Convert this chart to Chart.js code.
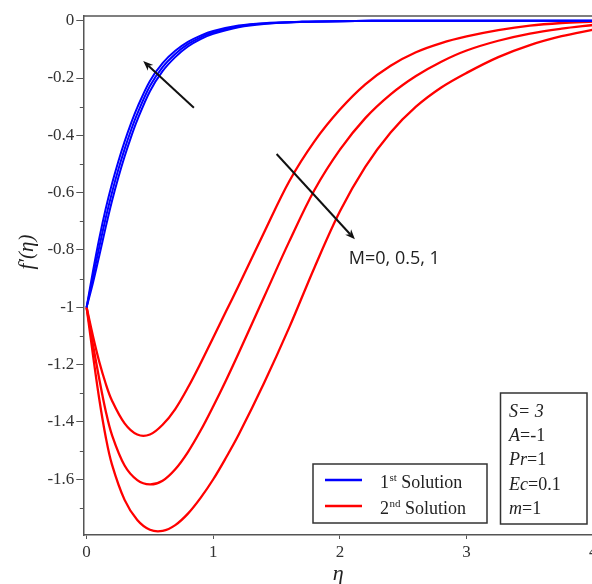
<!DOCTYPE html>
<html>
<head>
<meta charset="utf-8">
<script src="https://cdn.jsdelivr.net/npm/chart.js@4.4.1/dist/chart.umd.min.js"></script>
<style>
  html, body { margin: 0; padding: 0; background: #fff; overflow: hidden; }
  #wrap { width: 600px; height: 584px; position: relative; }
</style>
</head>
<body>
<div id="wrap"><canvas id="grafico"></canvas></div>
<script>
// eta values and f'(eta) for the 1st solution (M = 0, 0.5, 1)
const etaBlue = [0, 0.05, 0.1, 0.15, 0.2, 0.25, 0.3, 0.35, 0.4, 0.5, 0.6, 0.7, 0.8, 0.9, 1.0, 1.2, 1.4, 1.7, 2.0, 2.5, 4.0];
const blueM0 = [-1, -0.915, -0.82, -0.722, -0.63, -0.548, -0.474, -0.407, -0.347, -0.246, -0.176, -0.127, -0.09, -0.064, -0.046, -0.023, -0.0115, -0.004, -0.0015, 0, 0];
const blueM05 = [-1, -0.895, -0.79, -0.69, -0.60, -0.52, -0.448, -0.383, -0.325, -0.228, -0.162, -0.116, -0.082, -0.058, -0.041, -0.02, -0.01, -0.004, -0.0015, 0, 0];
const blueM1 = [-1, -0.875, -0.76, -0.658, -0.57, -0.492, -0.422, -0.359, -0.303, -0.21, -0.148, -0.105, -0.074, -0.052, -0.036, -0.017, -0.0085, -0.004, -0.0015, 0, 0];

// 2nd solution (M = 0, 0.5, 1)
const etaRed = [0, 0.05, 0.1, 0.15, 0.2, 0.3, 0.4, 0.5, 0.6, 0.7, 0.8, 0.9, 1.0, 1.1, 1.2, 1.4, 1.6, 1.8, 2.0, 2.2, 2.4, 2.6, 2.8, 3.0, 3.25, 3.5, 3.75, 4.0];
const redM0 = [-1, -1.10, -1.19, -1.265, -1.325, -1.405, -1.444, -1.444, -1.41, -1.355, -1.28, -1.195, -1.105, -1.015, -0.925, -0.74, -0.56, -0.42, -0.31, -0.222, -0.157, -0.11, -0.078, -0.055, -0.033, -0.017, -0.008, -0.003];
const redM05 = [-1, -1.13, -1.25, -1.36, -1.445, -1.552, -1.603, -1.618, -1.605, -1.565, -1.505, -1.43, -1.345, -1.255, -1.16, -0.965, -0.77, -0.59, -0.45, -0.34, -0.257, -0.193, -0.143, -0.104, -0.07, -0.045, -0.028, -0.015];
const redM1 = [-1, -1.165, -1.32, -1.45, -1.548, -1.672, -1.742, -1.776, -1.78, -1.76, -1.72, -1.665, -1.60, -1.525, -1.445, -1.265, -1.07, -0.86, -0.665, -0.51, -0.39, -0.30, -0.233, -0.182, -0.127, -0.085, -0.054, -0.031];

const minorYTicks = [-0.1, -0.3, -0.5, -0.7, -0.9, -1.1, -1.3, -1.5, -1.7];

const legendItems = [
  { num: "1", sup: "st", text: " Solution", color: "#0000ff" },
  { num: "2", sup: "nd", text: " Solution", color: "#ff0000" },
];
const paramLines = [
  [["S= 3", true]],
  [["A", true], ["=-1", false]],
  [["Pr", true], ["=1", false]],
  [["Ec", true], ["=0.1", false]],
  [["m", true], ["=1", false]],
];
const annotationText = "M=0, 0.5, 1";
// arrows in data coordinates [eta, f']
const arrows = [
  { from: [0.847, -0.304], to: [0.447, -0.141] },
  { from: [1.5, -0.465], to: [2.118, -0.763] },
];

const serif = '"Liberation Serif", "Times New Roman", serif';

function pts(xs, ys) {
  return xs.map((x, i) => ({ x: x, y: ys[i] }));
}

function lineSet(xs, ys, color, w) {
  return {
    data: pts(xs, ys),
    borderColor: color,
    borderWidth: w,
    pointRadius: 0,
    fill: false,
    tension: 0.35,
  };
}

function drawArrow(ctx, x1, y1, x2, y2) {
  const ang = Math.atan2(y2 - y1, x2 - x1);
  const len = 10, half = 4;
  const c = Math.cos(ang), s = Math.sin(ang);
  ctx.beginPath();
  ctx.moveTo(x1, y1);
  ctx.lineTo(x2 - c * len * 0.7, y2 - s * len * 0.7);
  ctx.stroke();
  ctx.beginPath();
  ctx.moveTo(x2, y2);
  ctx.lineTo(x2 - c * len - s * half, y2 - s * len + c * half);
  ctx.lineTo(x2 - c * len * 0.7, y2 - s * len * 0.7);
  ctx.lineTo(x2 - c * len + s * half, y2 - s * len - c * half);
  ctx.closePath();
  ctx.fill();
}

const overlay = {
  id: "overlay",
  afterDraw(chart) {
    const { ctx, chartArea: a, scales } = chart;
    const x = scales.x, y = scales.y;
    ctx.save();

    // top frame line
    ctx.strokeStyle = "#555";
    ctx.lineWidth = 1.5;
    ctx.beginPath();
    ctx.moveTo(a.left, a.top);
    ctx.lineTo(a.right + 10, a.top);
    ctx.stroke();

    // minor ticks on y
    ctx.lineWidth = 1;
    minorYTicks.forEach((v) => {
      const py = Math.round(y.getPixelForValue(v)) + 0.5;
      ctx.beginPath();
      ctx.moveTo(a.left - 3.5, py);
      ctx.lineTo(a.left, py);
      ctx.stroke();
    });

    // y axis title
    ctx.fillStyle = "#222";
    ctx.save();
    ctx.translate(27, 252);
    ctx.rotate(-Math.PI / 2);
    ctx.font = "italic 21px " + serif;
    ctx.textAlign = "center";
    ctx.textBaseline = "middle";
    ctx.fillText("f\u2032(\u03b7)", 0, 0);
    ctx.restore();

    // arrows
    ctx.strokeStyle = "#111";
    ctx.fillStyle = "#111";
    ctx.lineWidth = 2;
    arrows.forEach((ar) => {
      drawArrow(ctx,
        x.getPixelForValue(ar.from[0]), y.getPixelForValue(ar.from[1]),
        x.getPixelForValue(ar.to[0]), y.getPixelForValue(ar.to[1]));
    });

    // M annotation
    ctx.fillStyle = "#222";
    ctx.font = '18px "Open Sans", "Noto Sans", sans-serif';
    ctx.textAlign = "left";
    ctx.textBaseline = "alphabetic";
    ctx.fillText(annotationText, x.getPixelForValue(2.07), y.getPixelForValue(-0.848));

    // legend box
    ctx.fillStyle = "#fff";
    ctx.fillRect(313, 464, 174, 59);
    ctx.strokeStyle = "#333";
    ctx.lineWidth = 1.5;
    ctx.strokeRect(313, 464, 174, 59);
    legendItems.forEach((it, i) => {
      const ly = 480 + i * 26;
      ctx.strokeStyle = it.color;
      ctx.lineWidth = 2.5;
      ctx.beginPath();
      ctx.moveTo(325, ly);
      ctx.lineTo(362, ly);
      ctx.stroke();
      ctx.fillStyle = "#222";
      let tx = 380;
      const base = ly + 8;
      ctx.font = "18px " + serif;
      ctx.fillText(it.num, tx, base);
      tx += ctx.measureText(it.num).width;
      ctx.font = "11px " + serif;
      ctx.fillText(it.sup, tx + 0.5, base - 7);
      tx += ctx.measureText(it.sup).width + 0.5;
      ctx.font = "18px " + serif;
      ctx.fillText(it.text, tx, base);
    });

    // parameter box
    ctx.fillStyle = "#fff";
    ctx.fillRect(500.5, 393, 86.5, 131);
    ctx.strokeStyle = "#333";
    ctx.lineWidth = 1.5;
    ctx.strokeRect(500.5, 393, 86.5, 131);
    ctx.fillStyle = "#222";
    paramLines.forEach((parts, i) => {
      let tx = 509;
      const base = 417 + i * 24.2;
      parts.forEach((p) => {
        ctx.font = (p[1] ? "italic " : "") + "18px " + serif;
        ctx.fillText(p[0], tx, base);
        tx += ctx.measureText(p[0]).width;
      });
    });

    ctx.restore();
  },
};

const ctx = document.getElementById("grafico").getContext("2d");

new Chart(ctx, {
  type: "line",
  data: {
    datasets: [
      lineSet(etaBlue, blueM1, "#0000ff", 2),
      lineSet(etaBlue, blueM05, "#0000ff", 2),
      lineSet(etaBlue, blueM0, "#0000ff", 2),
      lineSet(etaRed, redM0, "#ff0000", 2.3),
      lineSet(etaRed, redM05, "#ff0000", 2.3),
      lineSet(etaRed, redM1, "#ff0000", 2.3),
    ],
  },
  options: {
    responsive: true,
    maintainAspectRatio: false,
    animation: false,
    layout: { padding: { left: 0, top: 16, right: 6.7, bottom: 0 } },
    plugins: {
      legend: { display: false },
      tooltip: { enabled: false },
    },
    scales: {
      x: {
        type: "linear",
        min: -0.026,
        max: 4,
        afterFit: function (s) {
          s.height = 49;
          s.paddingLeft = 0;
          s.paddingRight = 0;
        },
        ticks: {
          stepSize: 1,
          includeBounds: false,
          autoSkip: false,
          maxRotation: 0,
          padding: 3,
          color: "#333",
          font: { family: serif, size: 17 },
          callback: (v) => String(v),
        },
        grid: { drawOnChartArea: false, drawTicks: true, tickLength: 4, tickColor: "#555" },
        border: { display: true, color: "#555", width: 1.5 },
        title: {
          display: true,
          text: "\u03b7",
          color: "#222",
          padding: { top: 0, bottom: -3 },
          font: { family: serif, size: 22, style: "italic", lineHeight: 1.2 },
        },
      },
      y: {
        type: "linear",
        min: -1.7945,
        max: 0.0164,
        afterFit: function (s) {
          s.width = 83.3;
          s.paddingTop = 0;
          s.paddingBottom = 0;
        },
        ticks: {
          stepSize: 0.2,
          includeBounds: false,
          autoSkip: false,
          padding: 2,
          color: "#333",
          font: { family: serif, size: 17 },
          callback: (v) => String(Math.round(v * 10) / 10),
        },
        grid: { drawOnChartArea: false, drawTicks: true, tickLength: 7, tickColor: "#555" },
        border: { display: true, color: "#555", width: 1.5 },
      },
    },
  },
  plugins: [overlay],
});
</script>
</body>
</html>
